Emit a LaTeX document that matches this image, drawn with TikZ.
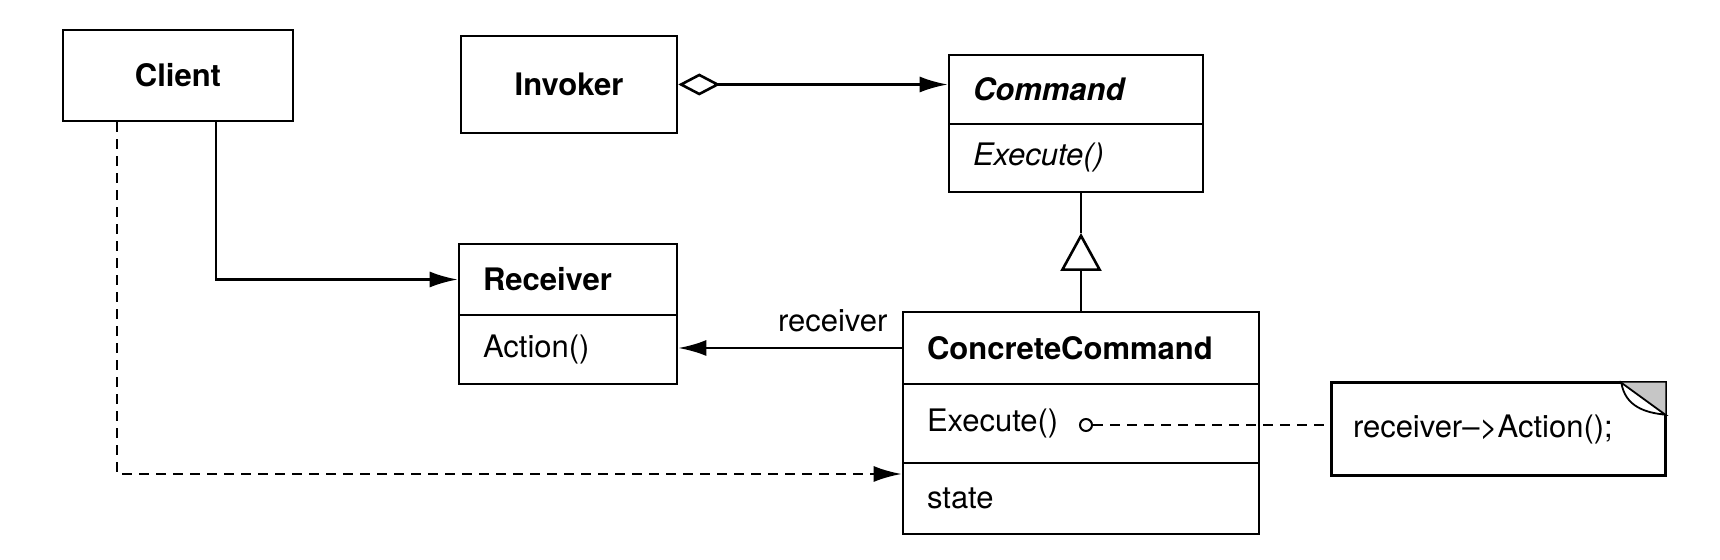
\documentclass[tikz,border=0pt]{standalone}
\usepackage{fontspec}
\setmainfont{TeX Gyre Heros}
\usetikzlibrary{arrows.meta}
\newcommand{\umlsize}{\fontsize{15.5}{18}\selectfont}

\tikzset{
  plainbox/.style={draw, inner sep=0pt, font=\umlsize\bfseries},
  compart/.style={draw, inner xsep=12pt, inner ysep=0pt, align=left, font=\umlsize},
  notebox/.style={inner xsep=10pt, inner ysep=0pt, align=left, font=\umlsize},
  assoc/.style={-{Latex[length=14pt,width=8pt]}},
  dep/.style={dash pattern=on 5pt off 3.5pt},
}

\begin{document}
\begin{tikzpicture}[x=0.5pt,y=-0.5pt,line width=1.3pt]
  \useasboundingbox (0,0) rectangle (1720,560);

  \draw (178,75.5) node[plainbox, minimum width=115pt, minimum height=45.5pt] (client) {Client};
  \draw (569,84.5) node[plainbox, minimum width=108pt, minimum height=48.5pt] (invoker) {Invoker};
  \draw (1076,89.5) node[compart, text width=103pt, minimum height=34.5pt, font=\umlsize\bfseries\itshape] (cmd) {Command};
  \draw (1076,158) node[compart, text width=103pt, minimum height=34pt, font=\umlsize\itshape] (cmdop) {Execute()};
  \draw (568,279.5) node[compart, text width=85pt, minimum height=35.5pt, font=\umlsize\bfseries] (rcv) {Receiver};
  \draw (568,349.5) node[compart, text width=85pt, minimum height=34.5pt] (rcvop) {Action()};
  \draw (1081,348) node[compart, text width=154pt, minimum height=36pt, font=\umlsize\bfseries] (cc) {ConcreteCommand};
  \draw (1081,423.5) node[compart, text width=154pt, minimum height=39.5pt] (ccexec) {Execute()};
  \draw (1081,498.5) node[compart, text width=154pt, minimum height=35.5pt] (ccstate) {state};
  \draw (1498.5,429) node[notebox, text width=145.5pt, minimum height=45pt] (note) {receiver\textendash>Action();};
  \draw (1086,425) node[circle, draw, inner sep=0pt, minimum size=6pt, line width=1pt] (dot) {};

  % note with folded corner
  \draw (note.north west) rectangle (note.south east);
  \fill[gray!45] ([xshift=-22pt]note.north east) -- (note.north east) -- ([yshift=-16pt]note.north east) -- cycle;
  \filldraw[fill=white, line width=0.9pt] ([xshift=-22pt]note.north east) .. controls ([xshift=-20pt,yshift=-12pt]note.north east) and ([xshift=-10pt,yshift=-15pt]note.north east) .. ([yshift=-16pt]note.north east) -- cycle;

  \coordinate (bend1) at (216,275);
  \coordinate (bend2) at (117,474);
  \coordinate (apex) at (1081,233);

  \path[{Diamond[open,length=21pt,width=11pt]}-{Latex[length=14pt,width=8pt]}] (invoker.east) edge (cmd.west |- invoker.east);
  \draw[assoc] (client.south -| bend1) |- (rcv.west);
  \draw[assoc, dep] (client.south -| bend2) |- (ccstate.west |- bend2);
  \path[assoc] (cc.west) edge node[pos=0, anchor=south east, inner sep=0pt, xshift=-6.5pt, yshift=7.5pt, font=\umlsize] {receiver} (rcvop.east |- cc.west);
  \draw[-{Triangle[open,length=19pt,width=20.5pt]}] (cc.north) -- (apex);
  \draw (apex) -- (cmdop.south -| apex);
  \draw[dep] (dot) -- (note.west |- dot);

\end{tikzpicture}
\end{document}
